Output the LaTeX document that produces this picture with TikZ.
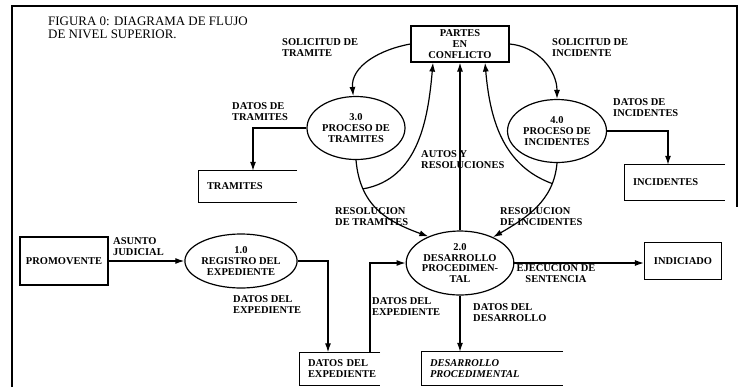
\documentclass[tikz,border=0pt]{standalone}
\usepackage{fontspec}
\setmainfont{Liberation Serif}
\usetikzlibrary{shapes.geometric,arrows.meta}

\tikzset{
  proceso/.style={draw, ellipse, line width=1.2bp, inner sep=0pt, align=center,
    minimum width=98bp, minimum height=63bp, font=\fontsize{10.5}{11}\selectfont\bfseries},
  entidad/.style={draw, rectangle, line width=1.2bp, inner sep=0pt, align=center,
    font=\fontsize{10.5}{11}\selectfont\bfseries},
  almacen/.style={rectangle, inner sep=0pt, inner xsep=8bp, align=left,
    font=\fontsize{10.5}{11}\selectfont\bfseries},
  etiqueta/.style={anchor=west, inner sep=0pt, align=left,
    font=\fontsize{10.5}{11}\selectfont\bfseries},
  flujo/.style={->, >={Latex[length=9bp,width=6bp]}, line width=1.2bp},
}

\begin{document}
\begin{tikzpicture}[x=1bp,y=1bp]
\useasboundingbox (0,0) rectangle (740,-387);
\draw [line width=1.4bp] (12,-387) -- (12,-6) -- (737,-6) -- (737,-207);
\node [anchor=north west, inner sep=0pt, align=left, font=\fontsize{13}{12.5}\selectfont] (titulo) at (48,-17)
  {FIGURA 0: DIAGRAMA DE FLUJO\\DE NIVEL SUPERIOR.};

% entidades y procesos
\node [entidad, minimum width=98bp, minimum height=36bp] (partes) at (460,-44) {PARTES\\EN\\CONFLICTO};
\node [entidad, minimum width=88bp, minimum height=48bp] (promo) at (64,-261) {PROMOVENTE};
\node [entidad, minimum width=77bp, minimum height=37bp] (indi) at (683,-261) {INDICIADO};
\node [proceso] (p3) at (356,-128) {3.0\\PROCESO DE\\TRAMITES};
\node [proceso, minimum width=99bp] (p4) at (557,-131) {4.0\\PROCESO DE\\INCIDENTES};
\node [proceso, minimum width=97bp, minimum height=54bp] (p1) at (241,-261) {1.0\\REGISTRO DEL\\EXPEDIENTE};
\node [proceso, minimum width=97bp, minimum height=64bp] (p2) at (460,-263) {2.0\\DESARROLLO\\PROCEDIMEN-\\TAL};

% almacenes
\node [almacen, text width=82bp, minimum height=31bp] (tram) at (248,-186.5) {TRAMITES};
\node [almacen, text width=84bp, minimum height=35bp] (inc) at (675,-182.5) {INCIDENTES};
\node [almacen, text width=64bp, minimum height=33bp] (dexp) at (340,-369) {DATOS DEL\\EXPEDIENTE};
\node [almacen, text width=125bp, minimum height=33bp, font=\fontsize{10.5}{11}\selectfont\bfseries\itshape] (desa) at (492.5,-368.5) {DESARROLLO\\PROCEDIMENTAL};
\foreach \s in {tram,inc,dexp,desa}
  \draw [line width=1.2bp] (\s.north east) -- (\s.north west) -- (\s.south west) -- (\s.south east);

% flujos
\draw [flujo] (partes.west) to[out=190,in=95] (p3.95);
\draw [flujo] (partes.east) to[out=-5,in=90] (p4.north);
\draw [flujo] (p2.north) -- (partes.south);
\draw [flujo] (p3.south) to[out=-85,in=160,looseness=1.1] coordinate[pos=0.25] (bt) (p2.140);
\draw [flujo] (p4.south) to[out=-95,in=30] coordinate[pos=0.2] (bi) (p2.38);
\draw [flujo] (bt) to[out=10,in=-95] ([xshift=-27bp]partes.south);
\draw [flujo] (bi) to[out=160,in=-85] ([xshift=25bp]partes.south);
\draw [flujo] (p3.west) -| ([xshift=5bp]tram.north);
\draw [flujo] (p4.east) -| ([xshift=-7bp]inc.north);
\draw [flujo] (promo.east) -- (p1.west);
\draw [flujo] (p1.east) -| ([xshift=-12bp]dexp.north);
\draw [flujo] ([xshift=30bp]dexp.north) |- (p2.west);
\draw [flujo] (p2.south) -- (p2.south |- desa.north);
\draw [flujo] (p2.east) -- (p2.east -| indi.west);

% etiquetas
\node [etiqueta] (lsol3) at (282,-48) {SOLICITUD DE\\TRAMITE};
\node [etiqueta] (lsol4) at (552,-48) {SOLICITUD DE\\INCIDENTE};
\node [etiqueta] (ldtram) at (232,-112) {DATOS DE\\TRAMITES};
\node [etiqueta] (ldinc) at (613,-108) {DATOS DE\\INCIDENTES};
\node [etiqueta] (lautos) at (421,-160) {AUTOS Y\\RESOLUCIONES};
\node [etiqueta] (lrest) at (335,-217) {RESOLUCION\\DE TRAMITES};
\node [etiqueta] (lresi) at (500,-217) {RESOLUCION\\DE INCIDENTES};
\node [etiqueta] (lasunto) at (113,-247) {ASUNTO\\JUDICIAL};
\node [etiqueta] (ldexp1) at (233,-305) {DATOS DEL\\EXPEDIENTE};
\node [etiqueta] (ldexp2) at (372,-307) {DATOS DEL\\EXPEDIENTE};
\node [etiqueta, anchor=center, align=center] (lejec) at (556,-274) {EJECUCION DE\\SENTENCIA};
\node [etiqueta] (lddes) at (473,-313) {DATOS DEL\\DESARROLLO};
\end{tikzpicture}
\end{document}
